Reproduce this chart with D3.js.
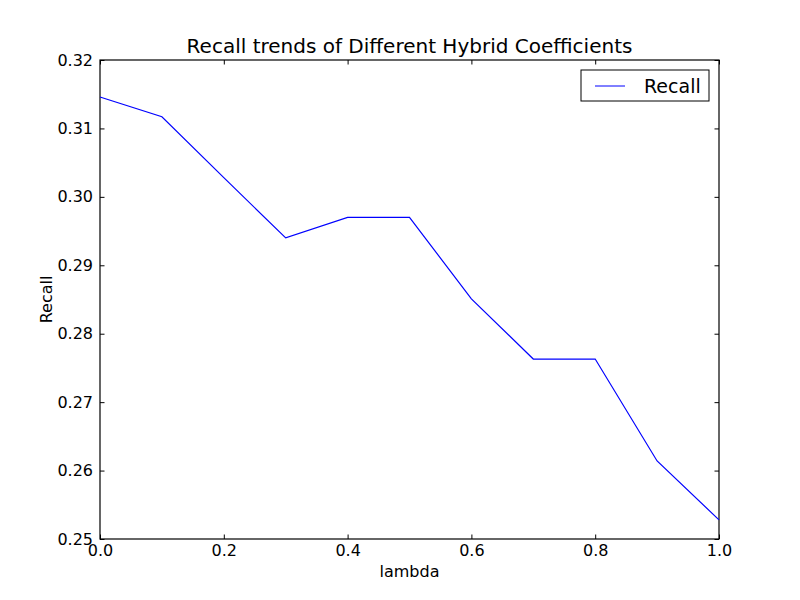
<!DOCTYPE html>
<html>
<head>
<meta charset="utf-8">
<script src="https://cdn.jsdelivr.net/npm/d3@7"></script>
<style>
  body { margin: 0; background: #fff; }
  text { font-family: "DejaVu Sans", sans-serif; fill: #000; }
</style>
</head>
<body>
<svg id="chart"></svg>
<script>
const lambdas = [0.0, 0.1, 0.2, 0.3, 0.4, 0.5, 0.6, 0.7, 0.8, 0.9, 1.0]
const recall = [0.3146, 0.3117, 0.3028, 0.2940, 0.2970, 0.2970, 0.2851, 0.2763, 0.2763, 0.2614, 0.2528]
const xTicks = [0.0, 0.2, 0.4, 0.6, 0.8, 1.0]
const yTicks = [0.25, 0.26, 0.27, 0.28, 0.29, 0.30, 0.31, 0.32]

const width = 800
const height = 600
const margin = {top: 60, right: 81, bottom: 61, left: 100}
const w = width - margin.left - margin.right
const h = height - margin.top - margin.bottom

const svg = d3.select('#chart')
    .attr('width', width)
    .attr('height', height)

const xScale = d3.scaleLinear().domain([0, 1]).range([0, w])
const yScale = d3.scaleLinear().domain([0.25, 0.32]).range([h, 0])

const g = svg.append('g')
    .attr('transform', `translate(${margin.left},${margin.top})`)

const tickLen = 4.5
const fontSize = '16px'

// axes: ticks inside, on all four sides
const axBottom = g.append('g')
    .attr('transform', `translate(0,${h})`)
    .call(d3.axisBottom(xScale).tickValues(xTicks).tickFormat(d3.format('.1f')).tickSizeInner(-tickLen).tickSizeOuter(0).tickPadding(6))
const axTop = g.append('g')
    .call(d3.axisTop(xScale).tickValues(xTicks).tickFormat('').tickSizeInner(-tickLen).tickSizeOuter(0))
const axLeft = g.append('g')
    .call(d3.axisLeft(yScale).tickValues(yTicks).tickFormat(d3.format('.2f')).tickSizeInner(-tickLen).tickSizeOuter(0).tickPadding(7))
const axRight = g.append('g')
    .attr('transform', `translate(${w},0)`)
    .call(d3.axisRight(yScale).tickValues(yTicks).tickFormat('').tickSizeInner(-tickLen).tickSizeOuter(0))

;[axBottom, axTop, axLeft, axRight].forEach(a => {
    a.select('.domain').remove()
    a.selectAll('line').attr('stroke', '#000')
    a.selectAll('text').style('font-size', fontSize).style('font-family', '"DejaVu Sans", sans-serif')
})

g.append('rect')
    .attr('width', w)
    .attr('height', h)
    .attr('fill', 'none')
    .attr('stroke', '#000')
    .attr('stroke-width', 1.2)

const line = d3.line()
    .x((d, i) => xScale(lambdas[i]))
    .y(d => yScale(d))

g.append('path')
    .datum(recall)
    .attr('fill', 'none')
    .attr('stroke', '#0000ff')
    .attr('stroke-width', 1.2)
    .attr('d', line)

// title and labels
svg.append('text')
    .attr('x', margin.left + w / 2)
    .attr('y', 53)
    .attr('text-anchor', 'middle')
    .style('font-size', '20px')
    .text('Recall trends of Different Hybrid Coefficients')

svg.append('text')
    .attr('x', margin.left + w / 2)
    .attr('y', 577)
    .attr('text-anchor', 'middle')
    .style('font-size', fontSize)
    .text('lambda')

svg.append('text')
    .attr('transform', `translate(52,${margin.top + h / 2}) rotate(-90)`)
    .attr('text-anchor', 'middle')
    .style('font-size', fontSize)
    .text('Recall')

// legend
const legend = g.append('g')
    .attr('transform', `translate(${w - 138},10)`)
legend.append('rect')
    .attr('width', 128)
    .attr('height', 31)
    .attr('fill', '#fff')
    .attr('stroke', '#000')
legend.append('line')
    .attr('x1', 14).attr('x2', 44)
    .attr('y1', 16).attr('y2', 16)
    .attr('stroke', '#0000ff')
legend.append('text')
    .attr('x', 63)
    .attr('y', 23)
    .style('font-size', '19px')
    .text('Recall')
</script>
</body>
</html>
